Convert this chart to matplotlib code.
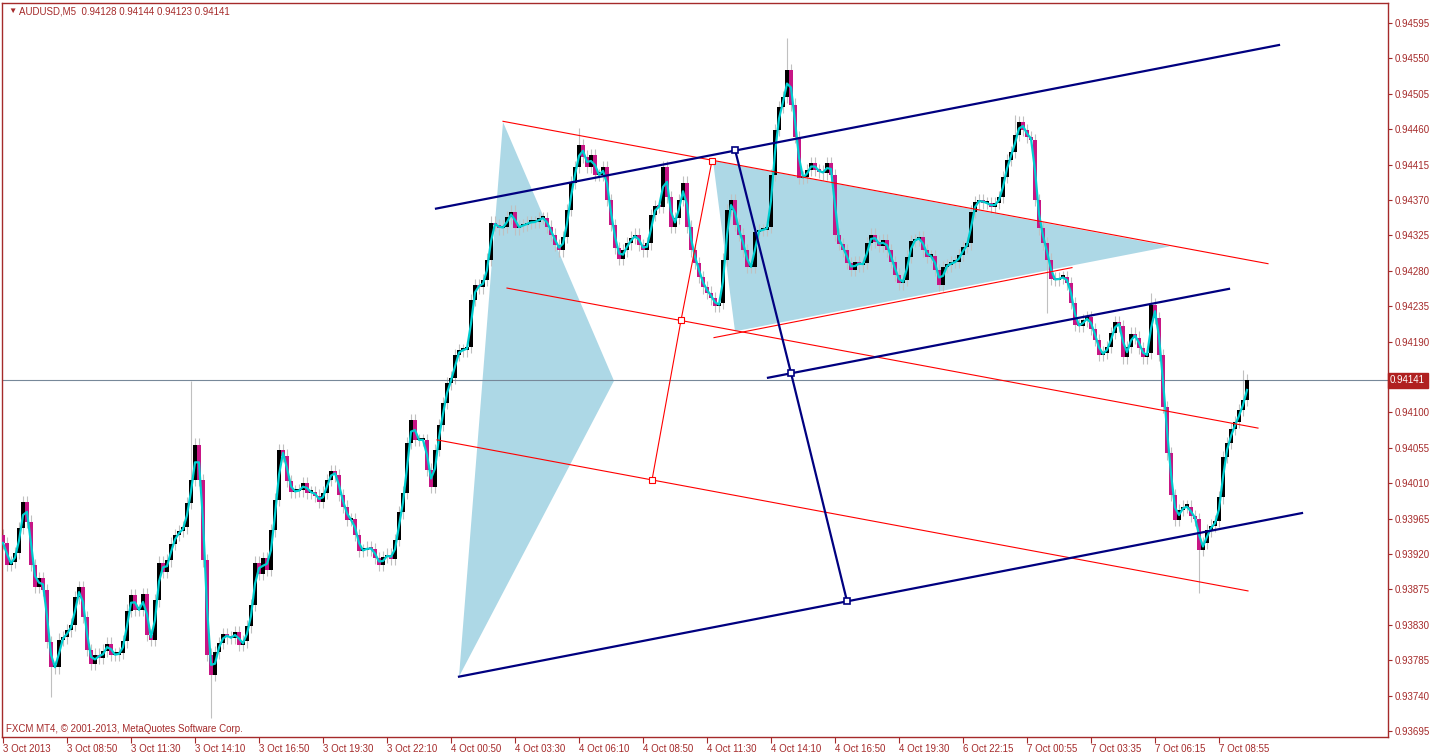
import numpy as np
import pandas as pd
import matplotlib
matplotlib.use("Agg")
import matplotlib.pyplot as plt
import matplotlib.transforms as mtransforms

plt.rcParams['font.family'] = ['Liberation Sans', 'DejaVu Sans']

# AUDUSD M5 closes, one value per two bars
CLOSES = [
    0.93934, 0.93906, 0.93910, 0.93921, 0.93953, 0.93986, 0.93961, 0.93906, 0.93878, 0.93889,
    0.93874, 0.93808, 0.93776, 0.93776, 0.93811, 0.93814, 0.93823, 0.93830, 0.93865, 0.93878,
    0.93840, 0.93798, 0.93780, 0.93792, 0.93788, 0.93797, 0.93806, 0.93792, 0.93792, 0.93794,
    0.93809, 0.93848, 0.93868, 0.93849, 0.93849, 0.93869, 0.93817, 0.93811, 0.93861, 0.93909,
    0.93897, 0.93912, 0.93933, 0.93944, 0.93949, 0.93954, 0.93985, 0.94014, 0.94059, 0.94014,
    0.93912, 0.93792, 0.93766, 0.93795, 0.93807, 0.93818, 0.93814, 0.93813, 0.93821, 0.93804,
    0.93809, 0.93828, 0.93855, 0.93909, 0.93895, 0.93915, 0.93900, 0.93950, 0.93989, 0.94052,
    0.94045, 0.94013, 0.93999, 0.94000,
    0.94001, 0.94010, 0.93998, 0.93999, 0.93994, 0.93986, 0.93998, 0.94014, 0.94025, 0.94020,
    0.93995, 0.93980, 0.93963, 0.93964, 0.93944, 0.93924, 0.93925, 0.93928, 0.93926, 0.93915,
    0.93906, 0.93916, 0.93919, 0.93914, 0.93938, 0.93973, 0.93998, 0.94061, 0.94090, 0.94065,
    0.94065, 0.94065, 0.94027, 0.94005, 0.94052, 0.94084, 0.94112, 0.94137, 0.94144, 0.94173,
    0.94179, 0.94179, 0.94183, 0.94243, 0.94262, 0.94259, 0.94268, 0.94294, 0.94341, 0.94338,
    0.94334, 0.94336, 0.94348, 0.94355, 0.94334,
    0.94337, 0.94338, 0.94341, 0.94342, 0.94342, 0.94347, 0.94347, 0.94336, 0.94326, 0.94313,
    0.94306, 0.94323, 0.94357, 0.94392, 0.94412, 0.94440, 0.94425, 0.94412, 0.94427, 0.94402,
    0.94402, 0.94412, 0.94370, 0.94338, 0.94309, 0.94295, 0.94306, 0.94315, 0.94322, 0.94326,
    0.94313, 0.94306, 0.94315, 0.94351, 0.94362, 0.94361, 0.94412, 0.94374, 0.94336, 0.94347,
    0.94370, 0.94392, 0.94336, 0.94306, 0.94290, 0.94272,
    0.94259, 0.94252, 0.94245, 0.94235, 0.94239, 0.94294, 0.94357, 0.94370, 0.94338, 0.94326,
    0.94306, 0.94285, 0.94285, 0.94329, 0.94332, 0.94332, 0.94336, 0.94402, 0.94459, 0.94488,
    0.94501, 0.94535, 0.94491, 0.94450, 0.94398, 0.94399, 0.94408, 0.94417, 0.94408, 0.94406,
    0.94404, 0.94417, 0.94402, 0.94326, 0.94314, 0.94306, 0.94290, 0.94281, 0.94291, 0.94287,
    0.94290, 0.94315, 0.94326, 0.94317, 0.94312, 0.94319, 0.94306, 0.94291, 0.94275, 0.94264,
    0.94268, 0.94298, 0.94318, 0.94319, 0.94323, 0.94306, 0.94298, 0.94299, 0.94281, 0.94262,
    0.94285, 0.94287, 0.94291, 0.94291, 0.94300, 0.94310, 0.94315, 0.94355, 0.94367, 0.94370,
    0.94366, 0.94366, 0.94361, 0.94366, 0.94374,
    0.94399, 0.94421, 0.94431, 0.94453, 0.94469, 0.94459, 0.94450, 0.94446, 0.94370, 0.94334,
    0.94315, 0.94294, 0.94270, 0.94268, 0.94271, 0.94272, 0.94264, 0.94239, 0.94211, 0.94210,
    0.94217, 0.94221, 0.94206, 0.94192, 0.94173, 0.94176, 0.94183, 0.94201, 0.94215, 0.94210,
    0.94170, 0.94183, 0.94200, 0.94195, 0.94182, 0.94170, 0.94176, 0.94237, 0.94220, 0.94173,
    0.94107, 0.94048, 0.93995, 0.93963, 0.93976, 0.93980, 0.93980, 0.93968, 0.93964, 0.93925,
    0.93934, 0.93950, 0.93956, 0.93962, 0.93992, 0.94043, 0.94061, 0.94079, 0.94088, 0.94103,
    0.94116, 0.94141,
]

# notable wick extremes (candle index -> price)
SPIKE_HIGHS = {47: 0.94140, 144: 0.94462, 196: 0.94576, 253: 0.94478, 287: 0.94252, 310: 0.94154}
SPIKE_LOWS = {12: 0.93738, 52: 0.93712, 261: 0.94226, 299: 0.93870}
WICK = 0.00008

TIME_LABELS = ["3 Oct 2013", "3 Oct 08:50", "3 Oct 11:30", "3 Oct 14:10", "3 Oct 16:50",
               "3 Oct 19:30", "3 Oct 22:10", "4 Oct 00:50", "4 Oct 03:30", "4 Oct 06:10",
               "4 Oct 08:50", "4 Oct 11:30", "4 Oct 14:10", "4 Oct 16:50", "4 Oct 19:30",
               "6 Oct 22:15", "7 Oct 00:55", "7 Oct 03:35", "7 Oct 06:15", "7 Oct 08:55"]
PRICE_TICKS = [0.93695, 0.93740, 0.93785, 0.93830, 0.93875, 0.93920, 0.93965, 0.94010,
               0.94055, 0.94100, 0.94190, 0.94235, 0.94280, 0.94325, 0.94370, 0.94415,
               0.94460, 0.94505, 0.94550, 0.94595]
LAST_PRICE = 0.94141

# drawn objects: (bar index, price) anchors
NAVY_LINES = [
    [(216.5, 0.94359), (638.0, 0.94567)],
    [(382.5, 0.94144), (613.0, 0.94257)],
    [(228.0, 0.93764), (649.5, 0.93972)],
]
NAVY_HANDLE = [(366.0, 0.94434), (394.0, 0.94150), (422.0, 0.93860)]
RED_LINES = [
    [(250.0, 0.94470), (632.5, 0.94289)],
    [(252.0, 0.94258), (627.5, 0.94080)],
    [(217.0, 0.94065), (622.5, 0.93873)],
    [(355.5, 0.94195), (534.5, 0.94284)],
]
RED_HANDLE = [(324.5, 0.94014), (339.0, 0.94217), (354.5, 0.94420)]
TRIANGLES = [
    [(250.0, 0.94469), (305.5, 0.94140), (228.0, 0.93764)],
    [(355.0, 0.94420), (366.0, 0.94203), (583.5, 0.94311)],
]

AX_COLOR = "#a52a2a"
NAVY = "#000080"

closes = np.array(CLOSES)
opens = np.concatenate([[closes[0] + 0.0001], closes[:-1]])
highs = np.maximum(opens, closes) + WICK
lows = np.minimum(opens, closes) - WICK
for i, v in SPIKE_HIGHS.items():
    highs[i] = v
for i, v in SPIKE_LOWS.items():
    lows[i] = v
xs = np.arange(len(closes)) * 2
ma = pd.Series(closes).rolling(2, min_periods=1).mean()

fig = plt.figure(figsize=(14.32, 7.55), dpi=100)
ax = fig.add_axes([2 / 1432, 18 / 755, 1386 / 1432, 734 / 755])
ax.set_xlim(-0.5, 692.5)
ax.set_ylim(0.936873, 0.946204)

for tri in TRIANGLES:
    tx, ty = zip(*tri)
    ax.fill(tx, ty, color="#add8e6", lw=0, zorder=1)

ax.vlines(xs, lows, highs, color="#c0c0c0", lw=0.8, zorder=2)
bull = closes >= opens
body = np.maximum(np.abs(closes - opens), 0.00003)
ax.bar(xs, body, bottom=np.minimum(opens, closes), width=1.7,
       color=np.where(bull, "black", "#c71585"), lw=0, zorder=3)
ax.plot(xs, ma, color="#00ced1", lw=1.6, zorder=4)

ax.axhline(LAST_PRICE, color="#778899", lw=0.8, zorder=2)

for seg in RED_LINES:
    sx, sy = zip(*seg)
    ax.plot(sx, sy, color="red", lw=0.8, zorder=5)
hx, hy = zip(*RED_HANDLE)
ax.plot(hx, hy, color="red", lw=0.8, marker="s", ms=4, mfc="white", mec="red", mew=0.8, zorder=5)
for seg in NAVY_LINES:
    sx, sy = zip(*seg)
    ax.plot(sx, sy, color=NAVY, lw=1.6, zorder=6)
hx, hy = zip(*NAVY_HANDLE)
ax.plot(hx, hy, color=NAVY, lw=1.6, marker="s", ms=4, mfc="white", mec=NAVY, mew=1.2, zorder=6)

for s in ax.spines.values():
    s.set_color(AX_COLOR)
    s.set_linewidth(1.0)

ax.set_xticks(np.arange(len(TIME_LABELS)) * 32)
ax.set_xticklabels(TIME_LABELS, fontsize=7, color=AX_COLOR, ha="left")
ax.tick_params(axis="x", direction="out", length=4, pad=1, color=AX_COLOR)
ax.yaxis.tick_right()
ax.set_yticks(PRICE_TICKS)
ax.set_yticklabels([f"{p:.5f}" for p in PRICE_TICKS], fontsize=7, color=AX_COLOR)
ax.tick_params(axis="y", direction="out", length=3, pad=2, color=AX_COLOR)

trans = mtransforms.blended_transform_factory(ax.transAxes, ax.transData)
ax.text(1.0015, LAST_PRICE, f"{LAST_PRICE:.5f}", transform=trans, fontsize=7,
        color="white", va="center", ha="left",
        bbox=dict(boxstyle="square,pad=0.25", fc="#b02020", ec="#b02020"), zorder=10)

fig.text(8 / 1432, 1 - 11 / 755, "\u25bc", fontsize=6, color="#a52a2a", va="center")
fig.text(19 / 1432, 1 - 11 / 755, "AUDUSD,M5  0.94128 0.94144 0.94123 0.94141",
         fontsize=7, color=AX_COLOR, va="center")
fig.text(6 / 1432, 1 - 729 / 755, "FXCM MT4, \u00a9 2001-2013, MetaQuotes Software Corp.",
         fontsize=7, color=AX_COLOR, va="center")

fig.savefig("out.png", dpi=100)
